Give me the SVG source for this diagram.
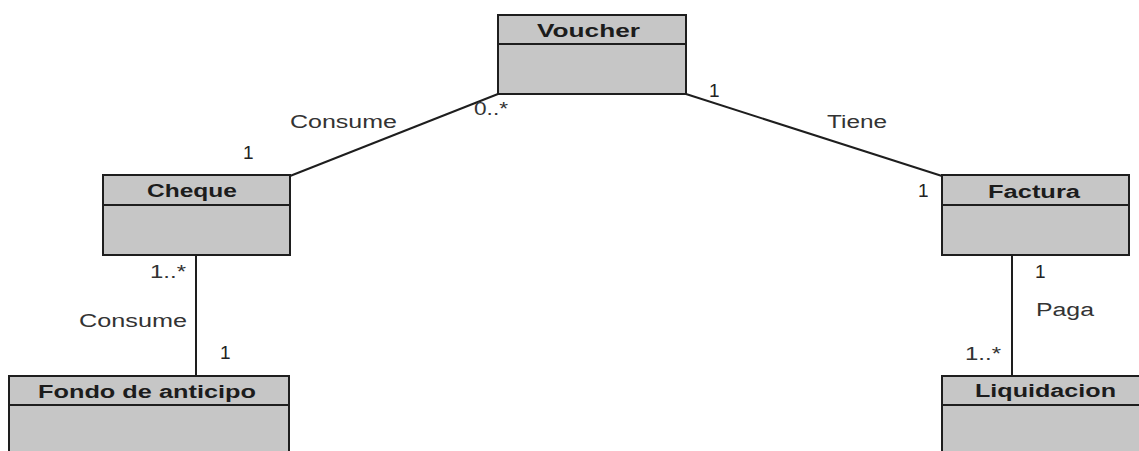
<svg xmlns="http://www.w3.org/2000/svg" width="1139" height="451" viewBox="0 0 1139 451">
<style>
.box{fill:#c6c6c6;stroke:#1e1e1e;stroke-width:2}
.div{stroke:#1e1e1e;stroke-width:2}
.title{font-family:"Liberation Sans",Arial,sans-serif;font-weight:bold;font-size:18px;fill:#1c1c1c}
.lbl{font-family:"Liberation Sans",Arial,sans-serif;font-size:18px;fill:#333}
.num{font-family:"Liberation Sans",Arial,sans-serif;font-size:19px;fill:#222}
.conn{stroke:#1e1e1e;stroke-width:2;fill:none}
</style>
<rect width="1139" height="451" fill="#ffffff"/>
<g id="connectors">
<line class="conn" x1="498" y1="94" x2="290" y2="176"/>
<line class="conn" x1="686" y1="94" x2="942" y2="176"/>
<line class="conn" x1="196" y1="255" x2="196" y2="376"/>
<line class="conn" x1="1012" y1="255" x2="1012" y2="376"/>
<text class="lbl" x="290" y="128" textLength="107" lengthAdjust="spacingAndGlyphs">Consume</text>
<text class="lbl" x="474" y="115" textLength="34" lengthAdjust="spacingAndGlyphs">0..*</text>
<text class="num" x="243" y="159">1</text>
<text class="num" x="709" y="97">1</text>
<text class="lbl" x="827" y="128" textLength="60" lengthAdjust="spacingAndGlyphs">Tiene</text>
<text class="num" x="918" y="197">1</text>
<text class="lbl" x="150" y="278" textLength="36" lengthAdjust="spacingAndGlyphs">1..*</text>
<text class="lbl" x="79" y="327" textLength="108" lengthAdjust="spacingAndGlyphs">Consume</text>
<text class="num" x="220" y="359">1</text>
<text class="num" x="1035" y="278">1</text>
<text class="lbl" x="1036" y="316" textLength="58" lengthAdjust="spacingAndGlyphs">Paga</text>
<text class="lbl" x="965" y="360" textLength="36" lengthAdjust="spacingAndGlyphs">1..*</text>
</g>
<g id="voucher">
<rect class="box" x="498" y="15" width="188" height="79"/>
<line class="div" x1="498" y1="44" x2="686" y2="44"/>
<text class="title" x="537" y="37" textLength="103" lengthAdjust="spacingAndGlyphs">Voucher</text>
</g>
<g id="cheque">
<rect class="box" x="103" y="175" width="187" height="80"/>
<line class="div" x1="103" y1="205" x2="290" y2="205"/>
<text class="title" x="147" y="197" textLength="90" lengthAdjust="spacingAndGlyphs">Cheque</text>
</g>
<g id="factura">
<rect class="box" x="942" y="175" width="187" height="80"/>
<line class="div" x1="942" y1="205" x2="1129" y2="205"/>
<text class="title" x="988" y="198" textLength="92" lengthAdjust="spacingAndGlyphs">Factura</text>
</g>
<g id="fondo">
<rect class="box" x="9" y="376" width="280" height="90"/>
<line class="div" x1="9" y1="405" x2="289" y2="405"/>
<text class="title" x="38" y="398" textLength="218" lengthAdjust="spacingAndGlyphs">Fondo de anticipo</text>
</g>
<g id="liquidacion">
<rect class="box" x="942" y="376" width="210" height="90"/>
<line class="div" x1="942" y1="405" x2="1152" y2="405"/>
<text class="title" x="975" y="397" textLength="141" lengthAdjust="spacingAndGlyphs">Liquidacion</text>
</g>
</svg>
